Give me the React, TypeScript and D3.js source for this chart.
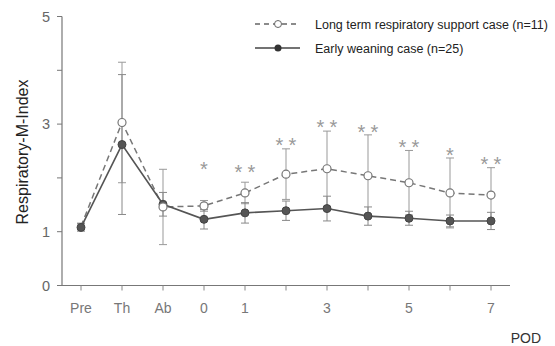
import React from 'react';
import * as d3 from 'd3';

const categories = ['Pre', 'Th', 'Ab', '0', '1', '2', '3', '4', '5', '6', '7'];
const xTickLabels = ['Pre', 'Th', 'Ab', '0', '1', '', '3', '', '5', '', '7'];
const yTicks = [0, 1, 2, 3, 4, 5];
const yTickLabels = ['0', '1', '', '3', '', '5'];

const longMean = [1.1, 3.03, 1.46, 1.48, 1.72, 2.07, 2.17, 2.04, 1.91, 1.72, 1.68];
const longSd = [0.06, 1.12, 0.7, 0.1, 0.2, 0.47, 0.7, 0.76, 0.6, 0.65, 0.51];
const earlyMean = [1.08, 2.62, 1.51, 1.23, 1.35, 1.39, 1.43, 1.29, 1.25, 1.2, 1.2];
const earlySd = [0.07, 1.3, 0.22, 0.18, 0.19, 0.18, 0.23, 0.17, 0.13, 0.11, 0.16];
const stars = [0, 0, 0, 1, 2, 2, 2, 2, 2, 1, 2];
const starLevel = [0, 0, 0, 2.24, 2.18, 2.69, 3.02, 2.93, 2.65, 2.5, 2.33];

const font = '"Liberation Sans", Arial, sans-serif';

export default function App() {
  const x = d3.scalePoint<string>().domain(categories).range([81, 491]);
  const y = d3.scaleLinear().domain([0, 5]).range([285.5, 16.5]);

  const line = d3
    .line<number>()
    .x((_, i) => x(categories[i]) as number)
    .y((d) => y(d));

  const errorBars = (mean: number[], sd: number[], color: string, key: string) =>
    mean.map((m, i) => {
      const cx = x(categories[i]) as number;
      const top = y(m + sd[i]);
      const bot = y(m - sd[i]);
      return (
        <g key={key + i} stroke={color} strokeWidth={1}>
          <line x1={cx} x2={cx} y1={top} y2={bot} />
          <line x1={cx - 4} x2={cx + 4} y1={top} y2={top} />
          <line x1={cx - 4} x2={cx + 4} y1={bot} y2={bot} />
        </g>
      );
    });

  return (
    <svg
      width={555}
      height={346}
      style={{ position: 'absolute', left: 0, top: 0, background: '#fff' }}
      fontFamily={font}
    >
      {/* axes */}
      <line x1={62} x2={62} y1={y(5)} y2={y(0)} stroke="#777" strokeWidth={1.2} />
      <line x1={62} x2={510} y1={y(0)} y2={y(0)} stroke="#777" strokeWidth={1.2} />
      {yTicks.map((t, i) => (
        <g key={'yt' + t}>
          <line x1={57} x2={62} y1={y(t)} y2={y(t)} stroke="#777" />
          {yTickLabels[i] && (
            <text x={50} y={y(t)} dy="0.35em" textAnchor="end" fontSize={14.5} fill="#666">
              {yTickLabels[i]}
            </text>
          )}
        </g>
      ))}
      {categories.map((c, i) => (
        <g key={'xt' + c}>
          <line x1={x(c)} x2={x(c)} y1={y(0)} y2={y(0) + 5} stroke="#888" />
          {xTickLabels[i] && (
            <text x={x(c)} y={313} textAnchor="middle" fontSize={14} fill="#777">
              {xTickLabels[i]}
            </text>
          )}
        </g>
      ))}
      <text x={541} y={343} textAnchor="end" fontSize={14} fill="#333">
        POD
      </text>
      <text
        transform="translate(28,152) rotate(-90)"
        textAnchor="middle"
        fontSize={16}
        fill="#222"
      >
        Respiratory-M-Index
      </text>

      {/* error bars */}
      {errorBars(longMean, longSd, '#999', 'l')}
      {errorBars(earlyMean, earlySd, '#888', 'e')}

      {/* lines */}
      <path d={line(longMean) || ''} fill="none" stroke="#777" strokeWidth={1.5} strokeDasharray="6,4" />
      <path d={line(earlyMean) || ''} fill="none" stroke="#555" strokeWidth={1.6} />

      {earlyMean.map((m, i) => (
        <circle key={'ec' + i} cx={x(categories[i])} cy={y(m)} r={4} fill="#555" stroke="#444" />
      ))}
      {longMean.map((m, i) =>
        i === 0 ? null : (
          <circle key={'lc' + i} cx={x(categories[i])} cy={y(m)} r={4} fill="#fff" stroke="#777" strokeWidth={1.2} />
        )
      )}

      {/* significance */}
      {stars.map((n, i) =>
        d3.range(n).map((k) => (
          <text
            key={'s' + i + '-' + k}
            x={(x(categories[i]) as number) + (n === 2 ? (k === 0 ? -6.5 : 6.5) : 0)}
            y={y(starLevel[i]) + 11}
            textAnchor="middle"
            fontSize={20}
            fill="#999"
          >
            *
          </text>
        ))
      )}

      {/* legend */}
      <line x1={255} x2={300} y1={24} y2={24} stroke="#666" strokeWidth={1.3} strokeDasharray="5,4" />
      <circle cx={278} cy={24} r={3.5} fill="#fff" stroke="#666" />
      <text x={315} y={28.5} fontSize={12.5} fill="#222">
        Long term respiratory support case (n=11)
      </text>
      <line x1={255} x2={300} y1={48} y2={48} stroke="#444" strokeWidth={1.5} />
      <circle cx={278} cy={48} r={3.5} fill="#333" />
      <text x={315} y={53} fontSize={12.5} fill="#222">
        Early weaning case (n=25)
      </text>
    </svg>
  );
}
